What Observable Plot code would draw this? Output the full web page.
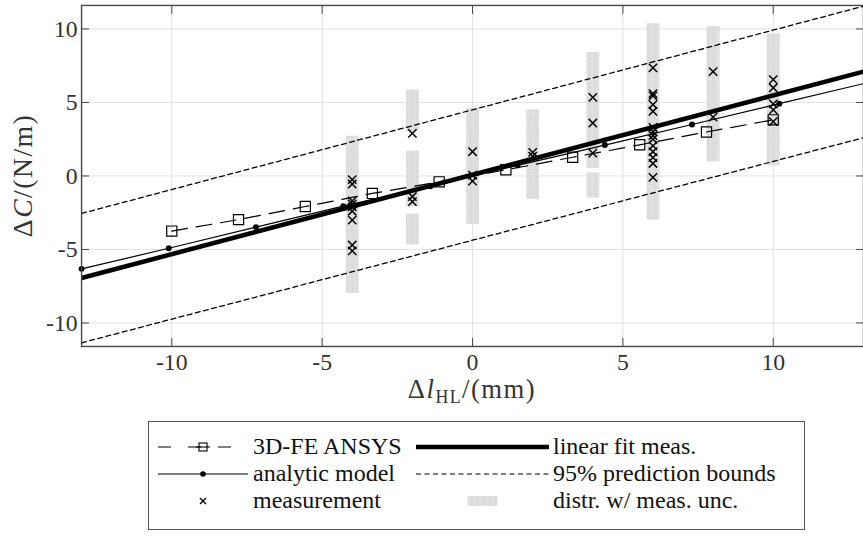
<!DOCTYPE html>
<html>
<head>
<meta charset="utf-8">
<script src="https://cdn.jsdelivr.net/npm/d3@7"></script>
<script src="https://cdn.jsdelivr.net/npm/@observablehq/plot@0.6"></script>
<style>
  html, body { margin: 0; padding: 0; background: #fff; overflow: hidden; }
  #wrap { position: relative; width: 863px; height: 537px; overflow: hidden;
          font-family: "Liberation Serif", "DejaVu Serif", "Noto Serif", "Times New Roman", Times, serif; color: #111; }
  #chart { position: absolute; left: 0; top: 0; }
  #legend {
    position: absolute; left: 148px; top: 421px; width: 657px; height: 109px; box-sizing: border-box;
    border: 1px solid #555; background: #fff; font-size: 24px;
  }
  #legend .tok { position: absolute; height: 20px; }
  #legend .lab { position: absolute; white-space: nowrap; line-height: 28px; height: 28px; }
</style>
</head>
<body>
<svg width="0" height="0" style="position:absolute">
  <defs>
    <pattern id="speckle" width="6" height="6" patternUnits="userSpaceOnUse">
      <rect width="6" height="6" fill="#dedede"/>
      <rect x="1" y="0" width="1" height="1" fill="#cecece"/>
      <rect x="4" y="2" width="1" height="1" fill="#eeeeee"/>
      <rect x="2" y="4" width="1" height="1" fill="#d0d0d0"/>
      <rect x="5" y="5" width="1" height="1" fill="#ebebeb"/>
      <rect x="0" y="3" width="1" height="1" fill="#d3d3d3"/>
    </pattern>
  </defs>
</svg>
<div id="wrap">
  <div id="chart"></div>
  <div id="legend"></div>
</div>
<script>
// ---------- data ----------
const xTicks = [-10, -5, 0, 5, 10];
const yTicks = [-10, -5, 0, 5, 10];

// 3D-FE ANSYS
const ansysX = [-10, -7.78, -5.56, -3.33, -1.11, 1.11, 3.33, 5.56, 7.78, 10];
const ansysY = [-3.75, -2.97, -2.08, -1.19, -0.40, 0.42, 1.27, 2.12, 2.99, 3.82];

// analytic model
const analyticX = [-13, -10.1, -7.2, -4.3, -1.4, 1.5, 4.4, 7.3, 10.2, 13.1];
const analyticY = [-6.32, -4.92, -3.48, -2.05, -0.70, 0.72, 2.10, 3.50, 4.92, 6.33];

// linear fit of measurements
const fitX = [-13, 13];
const fitY = [-6.94, 7.10];

// 95% prediction bounds
const boundX = [-13, 13];
const upperY = [-2.55, 11.55];
const lowerY = [-11.35, 2.60];

// measurements (x position and measured values)
const measX = [-4, -2, 0, 2, 4, 6, 8, 10];
const measY = [
  [-0.25, -0.55, -1.7, -1.9, -2.1, -2.4, -3.0, -4.7, -5.1],
  [2.9, -1.4, -1.75],
  [1.65, 0.05, -0.35],
  [1.6, 1.35],
  [5.35, 3.6, 1.55],
  [7.35, 5.6, 5.45, 4.85, 4.4, 3.3, 3.0, 2.75, 2.5, 2.05, 1.65, 1.25, 0.85, -0.1],
  [7.1, 4.0],
  [6.55, 6.0, 4.9, 4.5, 3.7]
];

// distribution with measurement uncertainty (vertical extents of grey clouds)
const distrX  = [-4, -2, -2, -2, 0, 2, 4, 4, 6, 8, 10];
const distrLo = [-8.0, 3.0, -2.1, -4.7, -3.3, -1.6, 0.5, -1.5, -3.0, 0.95, 0.7];
const distrHi = [2.7, 5.85, 1.7, -2.6, 4.6, 4.5, 8.4, 0.2, 10.35, 10.15, 9.65];

// ---------- tables ----------
const ansys = ansysX.map((x, i) => ({x, y: ansysY[i]}));
const analytic = analyticX.map((x, i) => ({x, y: analyticY[i]}));
const fit = fitX.map((x, i) => ({x, y: fitY[i]}));
const upper = boundX.map((x, i) => ({x, y: upperY[i]}));
const lower = boundX.map((x, i) => ({x, y: lowerY[i]}));
const meas = measX.flatMap((x, i) => measY[i].map(y => ({x, y})));
const distr = distrX.map((x, i) => ({x, lo: distrLo[i], hi: distrHi[i]}));

const W = 873, H = 415;
const frameC = "#444";
const FONT = "'Liberation Serif', 'DejaVu Serif', 'Noto Serif', 'Times New Roman', Times, serif";

const plot = Plot.plot({
  width: W, height: H,
  marginLeft: 82, marginRight: 0, marginTop: 5, marginBottom: H - 350,
  x: {domain: [-13, 13]},
  y: {domain: [-11.6, 11.6]},
  style: {fontFamily: FONT, fontSize: "24px", color: "#333", background: "transparent", overflow: "visible"},
  marks: [
    Plot.gridX(xTicks, {stroke: "#e2e2e2", strokeOpacity: 1, strokeWidth: 1}),
    Plot.gridY(yTicks, {stroke: "#e2e2e2", strokeOpacity: 1, strokeWidth: 1}),
    Plot.ruleX(distr, {x: "x", y1: "lo", y2: "hi", stroke: "url(#speckle)", strokeWidth: 13}),
    Plot.line(upper, {x: "x", y: "y", stroke: "#000", strokeWidth: 1.3, strokeDasharray: "5,3.5", clip: true}),
    Plot.line(lower, {x: "x", y: "y", stroke: "#000", strokeWidth: 1.3, strokeDasharray: "5,3.5", clip: true}),
    Plot.line(fit, {x: "x", y: "y", stroke: "#000", strokeWidth: 4.6, clip: true}),
    Plot.line(analytic, {x: "x", y: "y", stroke: "#000", strokeWidth: 1.2, clip: true}),
    Plot.dot(analytic, {x: "x", y: "y", r: 3, fill: "#000"}),
    Plot.line(ansys, {x: "x", y: "y", stroke: "#000", strokeWidth: 1.2, strokeDasharray: "16,9"}),
    Plot.dot(ansys, {x: "x", y: "y", symbol: "square", r: 5.8, fill: "none", stroke: "#000", strokeWidth: 1.2}),
    Plot.dot(meas, {x: "x", y: "y", symbol: "times", r: 3.9, stroke: "#000", strokeWidth: 1.5}),
    Plot.frame({stroke: frameC, strokeWidth: 1.4}),
    Plot.axisX(xTicks, {anchor: "bottom", tickSize: -8, tickPadding: 15, stroke: frameC, label: null, tickFormat: d => String(d), fill: "#333"}),
    Plot.axisX(xTicks, {anchor: "top", tickSize: -8, stroke: frameC, label: null, tickFormat: () => ""}),
    Plot.axisY(yTicks, {anchor: "left", tickSize: -8, tickPadding: 12, stroke: frameC, label: null, tickFormat: d => String(d), fill: "#333"}),
    Plot.axisY(yTicks, {anchor: "right", tickSize: -8, stroke: frameC, label: null, tickFormat: () => ""})
  ]
});
document.getElementById("chart").appendChild(plot);

// axis titles with math-style formatting
const svg = d3.select(plot);
const yl = svg.append("text")
  .attr("transform", `translate(26,${(5 + 350) / 2}) rotate(-90)`)
  .attr("text-anchor", "middle").attr("dominant-baseline", "middle")
  .attr("font-family", FONT).attr("font-size", 28).attr("letter-spacing", 1.5).attr("fill", "#333");
yl.append("tspan").text("Δ");
yl.append("tspan").attr("font-style", "italic").text("C");
yl.append("tspan").text("/(N/m)");

const xl = svg.append("text")
  .attr("x", (82 + W) / 2).attr("y", 403)
  .attr("text-anchor", "middle")
  .attr("font-family", FONT).attr("font-size", 27).attr("letter-spacing", 1.5).attr("fill", "#333");
xl.append("tspan").text("Δ");
xl.append("tspan").attr("font-style", "italic").text("l");
xl.append("tspan").attr("font-size", 18).attr("dy", 5).text("HL");
xl.append("tspan").attr("dy", -5).text("/(mm)");

// ---------- legend ----------
// positions are relative to the legend box (left 148, top 421)
const legendItems = [
  {label: "3D-FE ANSYS", kind: "ansys", col: 0, row: 0},
  {label: "analytic model", kind: "analytic", col: 0, row: 1},
  {label: "measurement", kind: "meas", col: 0, row: 2},
  {label: "linear fit meas.", kind: "fit", col: 1, row: 0},
  {label: "95% prediction bounds", kind: "bounds", col: 1, row: 1},
  {label: "distr. w/ meas. unc.", kind: "distr", col: 1, row: 2}
];
const cols = [{tok: 9, w: 90, lab: 104}, {tok: 267, w: 133, lab: 404}];
const rowTop = [10, 37, 64];
function token(kind, w) {
  const h = 20, c = h / 2;
  let s = `<svg width="${w}" height="${h}">`;
  if (kind === "ansys") {
    s += `<line x1="0" y1="${c}" x2="${w}" y2="${c}" stroke="#000" stroke-width="1.2" stroke-dasharray="13,17"/>`;
    s += `<rect x="${w / 2 - 4}" y="${c - 4}" width="8" height="8" fill="none" stroke="#000" stroke-width="1.1"/>`;
    s += `<line x1="${w / 2 - 7}" y1="${c}" x2="${w / 2 + 7}" y2="${c}" stroke="#000" stroke-width="1.1"/>`;
  } else if (kind === "analytic") {
    s += `<line x1="0" y1="${c}" x2="${w}" y2="${c}" stroke="#000" stroke-width="1.2"/>`;
    s += `<circle cx="${w / 2}" cy="${c}" r="2.8" fill="#000"/>`;
  } else if (kind === "meas") {
    s += `<path d="M${w / 2 - 3},${c - 3}L${w / 2 + 3},${c + 3}M${w / 2 - 3},${c + 3}L${w / 2 + 3},${c - 3}" stroke="#000" stroke-width="1.4"/>`;
  } else if (kind === "fit") {
    s += `<line x1="0" y1="${c}" x2="${w}" y2="${c}" stroke="#000" stroke-width="4.6"/>`;
  } else if (kind === "bounds") {
    s += `<line x1="0" y1="${c}" x2="${w}" y2="${c}" stroke="#000" stroke-width="1.2" stroke-dasharray="5,3.5"/>`;
  } else if (kind === "distr") {
    s += `<rect x="${w / 2 - 15}" y="${c - 5}" width="30" height="10" fill="url(#speckle)"/>`;
  }
  return s + "</svg>";
}
const leg = document.getElementById("legend");
legendItems.forEach(it => {
  const c = cols[it.col], top = rowTop[it.row];
  const t = document.createElement("div"); t.className = "tok";
  t.style.left = c.tok + "px"; t.style.top = (top + 4) + "px";
  t.innerHTML = token(it.kind, c.w);
  const l = document.createElement("div"); l.className = "lab";
  l.style.left = c.lab + "px"; l.style.top = top + "px";
  l.textContent = it.label;
  leg.appendChild(t); leg.appendChild(l);
});
</script>
</body>
</html>
